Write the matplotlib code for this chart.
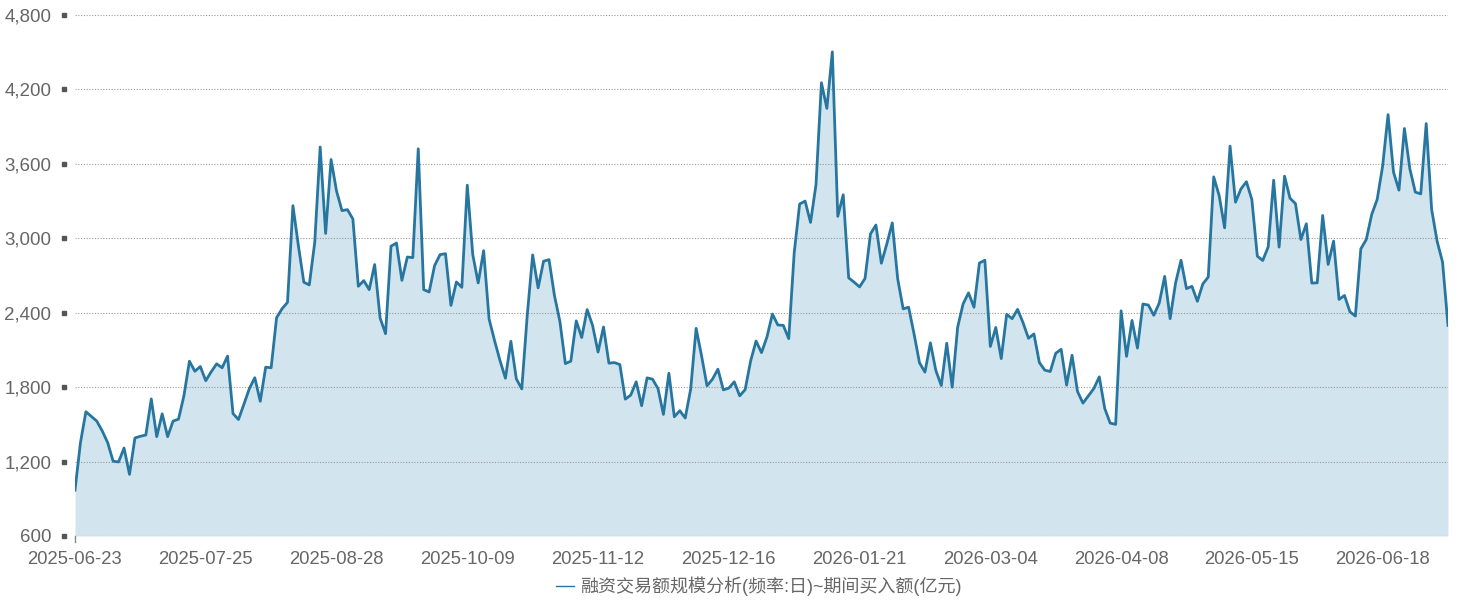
import matplotlib
matplotlib.use("Agg")
import matplotlib.pyplot as plt
import matplotlib.transforms as mtransforms
from matplotlib.ticker import FuncFormatter, FixedLocator

plt.rcParams['font.family'] = ['Liberation Sans', 'Noto Sans CJK SC', 'DejaVu Sans']

# 期间买入额(亿元), one value per trading day
values = [
    970, 1352, 1602, 1564, 1526, 1447, 1352, 1203, 1197, 1309,
    1097, 1390, 1404, 1414, 1705, 1401, 1585, 1401, 1526, 1542,
    1732, 2009, 1928, 1966, 1852, 1924, 1988, 1956, 2050, 1587,
    1539, 1662, 1788, 1876, 1686, 1961, 1956, 2360, 2432, 2483,
    3263, 2940, 2646, 2624, 2966, 3736, 3039, 3635, 3381, 3223,
    3231, 3156, 2613, 2659, 2586, 2788, 2357, 2231, 2936, 2962,
    2661, 2849, 2844, 3721, 2586, 2567, 2780, 2868, 2876, 2459,
    2648, 2605, 3428, 2870, 2640, 2900, 2350, 2176, 2015, 1872,
    2170, 1867, 1786, 2377, 2866, 2600, 2815, 2828, 2538, 2329,
    1990, 2009, 2334, 2200, 2425, 2297, 2083, 2285, 1993, 1998,
    1982, 1703, 1736, 1843, 1650, 1875, 1864, 1789, 1580, 1912,
    1561, 1610, 1551, 1784, 2274, 2052, 1811, 1864, 1945, 1778,
    1792, 1843, 1730, 1780, 2010, 2172, 2078, 2204, 2389, 2301,
    2298, 2191, 2882, 3276, 3300, 3128, 3431, 4254, 4047, 4503,
    3177, 3351, 2681, 2646, 2608, 2676, 3035, 3107, 2799, 2954,
    3124, 2672, 2431, 2444, 2229, 1996, 1921, 2157, 1934, 1813,
    2154, 1800, 2283, 2471, 2560, 2444, 2801, 2823, 2128, 2281,
    2030, 2387, 2352, 2427, 2320, 2194, 2229, 1998, 1937, 1926,
    2073, 2105, 1816, 2057, 1765, 1671, 1730, 1789, 1883, 1628,
    1510, 1500, 2415, 2048, 2338, 2115, 2470, 2462, 2379, 2478,
    2693, 2352, 2640, 2823, 2594, 2613, 2492, 2632, 2688, 3495,
    3344, 3084, 3743, 3291, 3398, 3456, 3312, 2856, 2821, 2931,
    3468, 2929, 3501, 3323, 3280, 2990, 3117, 2639, 2641, 3184,
    2789, 2977, 2507, 2539, 2408, 2373, 2915, 2990, 3192, 3313,
    3581, 3997, 3533, 3388, 3885, 3560, 3372, 3358, 3925, 3232,
    2977, 2808, 2298,
]

y_ticks = [600, 1200, 1800, 2400, 3000, 3600, 4200, 4800]
tick_labels = ['2025-06-23', '2025-07-25', '2025-08-28', '2025-10-09', '2025-11-12',
               '2025-12-16', '2026-01-21', '2026-03-04', '2026-04-08', '2026-05-15',
               '2026-06-18']
tick_pos = [i * 24 for i in range(len(tick_labels))]

series_name = '融资交易额规模分析(频率:日)~期间买入额(亿元)'

line_color = '#2776a0'
fill_color = '#d2e4ed'
text_color = '#666666'

fig = plt.figure(figsize=(14.71, 6.08), dpi=100)
ax = fig.add_axes([75 / 1471, 1 - 536 / 608, 1373 / 1471, 521 / 608])

x = list(range(len(values)))
ax.fill_between(x, 600, values, color=fill_color, linewidth=0, zorder=1)
ax.plot(x, values, color=line_color, linewidth=2.0, zorder=3, label=series_name)

ax.set_xlim(0, len(values) - 1)
ax.set_ylim(600, 4800)
ax.yaxis.set_major_locator(FixedLocator(y_ticks))
ax.yaxis.set_major_formatter(FuncFormatter(lambda v, p: '{:,.0f}'.format(v)))
ax.grid(axis='y', color='#999999', linestyle=(0, (1, 1.5)), linewidth=0.8, zorder=2)
ax.set_xticks(tick_pos)
ax.set_xticklabels(tick_labels)

for s in ax.spines.values():
    s.set_visible(False)

ax.tick_params(axis='y', length=0, labelcolor=text_color, labelsize=13.5, pad=17)
ax.tick_params(axis='x', length=0, labelcolor=text_color, labelsize=13.3, pad=10.5)

# small square tick marks, detached from the plot area
trans = mtransforms.blended_transform_factory(ax.transAxes, ax.transData)
trans = mtransforms.offset_copy(trans, fig=fig, x=-11, y=0, units='dots')
ax.plot([0] * len(y_ticks), y_ticks, linestyle='none', marker='s', markersize=3.2,
        color='#555555', transform=trans, clip_on=False, zorder=4)

# little stub under the first category
ax.plot([0, 0], [600, 555], color='#888888', linewidth=1.0, clip_on=False, zorder=4)

leg = fig.legend(loc='lower center', bbox_to_anchor=(0.5157, -0.007), frameon=False,
                 fontsize=13, handlelength=1.0, handletextpad=0.35)
for t in leg.get_texts():
    t.set_color(text_color)
for h in leg.get_lines():
    h.set_linewidth(1.0)

fig.savefig('out.png', dpi=100)
